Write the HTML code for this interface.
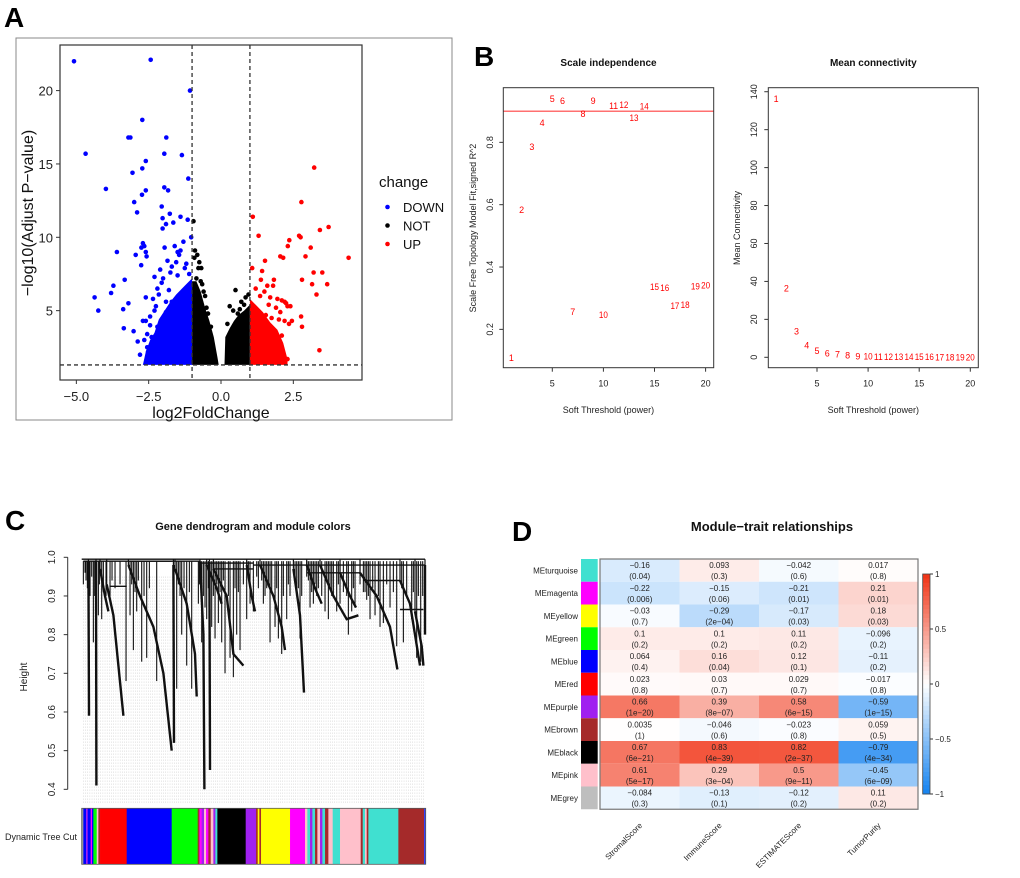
<!DOCTYPE html>
<html><head><meta charset="utf-8"><style>
html,body{margin:0;padding:0;background:#fff;}
svg{display:block;font-family:"Liberation Sans",sans-serif;}
</style></head><body>
<svg id="fig" width="1020" height="878" viewBox="0 0 1020 878" xmlns="http://www.w3.org/2000/svg">
<rect x="0" y="0" width="1020" height="878" fill="#fff"/>
<text x="4" y="27" font-size="28" font-weight="bold">A</text>
<text x="474" y="66" font-size="28" font-weight="bold">B</text>
<text x="5" y="530" font-size="28" font-weight="bold">C</text>
<text x="512" y="541" font-size="28" font-weight="bold">D</text>
<g id="pa"></g>
<g id="pb1"></g>
<g id="pb2"></g>
<g id="pc"></g>
<g id="pd"></g>
</svg>
<script>
// ---------- Panel A data ----------
const downX=[-5.08,-2.43,-1.07,-2.72,-3.2,-3.13,-1.89,-4.68,-1.96,-1.35,-2.6,-2.72,-3.06,-1.13,-3.98,-1.96,-1.83,-2.6,-2.73,-3.0,-2.05,-2.9,-1.77,-2.02,-1.4,-1.9,-1.65,-2.02,-1.15,-1.03,-3.6,-2.7,-2.65,-2.6,-2.75,-2.95,-2.57,-2.76,-3.33,-3.72,-3.8,-4.37,-4.24,-3.38,-3.2,-3.36,-3.02,-2.88,-2.7,-2.6,-2.55,-2.5,-2.52,-2.3,-2.1,-1.95,-1.6,-1.5,-1.3,-2.2,-2.0,-1.85,-2.35,-2.15,-1.7,-1.45,-1.25,-2.45,-2.25,-1.55,-1.2,-2.4,-2.05,-1.75,-1.1,-2.3,-1.9,-1.5,-2.6,-2.1,-1.8,-1.4,-2.8,-2.65,-2.45,-2.3,-2.55,-2.4,-2.2,-2.05,-1.9,-1.7];
const downY=[22.0,22.1,20.0,18.0,16.8,16.8,16.8,15.7,15.7,15.6,15.2,14.7,14.4,14.0,13.3,13.4,13.2,13.2,12.9,12.4,12.1,11.7,11.6,11.3,11.4,10.9,11.0,10.6,11.2,10.0,9.0,9.6,9.4,9.0,9.3,8.8,8.7,8.1,7.1,6.7,6.2,5.9,5.0,5.1,5.5,3.8,3.6,2.9,4.3,4.3,2.5,1.9,2.2,7.3,7.8,9.3,9.4,9.0,9.7,6.5,7.2,8.4,5.8,6.1,8.0,8.8,7.9,4.0,5.3,8.3,8.2,3.2,6.9,7.6,7.5,2.4,5.6,7.4,5.9,3.8,6.4,9.1,2.0,3.0,4.6,5.0,3.4,2.6,3.9,4.4,4.9,5.6];
const notX=[-0.95,-0.9,-0.82,-0.75,-0.68,-0.6,-0.85,-0.78,-0.7,-0.55,-0.5,-0.92,-0.65,0.5,0.3,0.42,0.58,0.7,0.85,0.95,0.22,0.65,0.8,-0.45,-0.35];
const notY=[11.1,9.1,8.8,8.3,7.9,6.3,7.2,7.9,7.0,6.0,5.2,8.6,6.8,6.4,5.3,5.0,4.8,5.6,5.9,6.1,4.1,5.1,5.4,4.8,3.9];
const upX=[3.22,2.78,1.1,3.72,3.42,1.3,2.7,2.75,2.36,2.31,3.1,4.41,2.05,2.15,2.92,1.52,1.08,1.42,3.2,3.5,1.83,1.38,2.8,3.15,3.67,1.6,1.8,3.3,2.1,2.2,2.25,2.3,2.4,2.77,2.2,2.45,2.35,2.8,3.4,2.3,1.2,1.5,1.7,1.95,1.35,1.65,1.9,2.05,1.25,1.55,1.75,2.0,1.45,2.1,1.85];
const upY=[14.75,12.4,11.4,10.7,10.5,10.1,10.1,10.0,9.8,9.4,9.3,8.6,8.7,8.6,8.7,8.4,7.9,7.7,7.6,7.6,7.1,7.1,7.1,6.8,6.8,6.7,6.7,6.1,5.7,5.6,5.5,5.3,5.3,4.6,4.3,4.3,4.1,3.9,2.3,1.7,6.5,6.3,5.9,5.8,6.0,5.4,5.2,4.9,5.0,4.7,4.5,4.4,3.6,3.3,3.0];
const downCloud=[[-2.7,1.3],[-2.6,2.2],[-2.45,3.0],[-2.3,3.5],[-2.15,4.4],[-1.95,5.0],[-1.75,5.6],[-1.55,6.1],[-1.35,6.5],[-1.15,6.9],[-1.0,7.2],[-1.0,1.3]];
const notLeftCloud=[[-1.0,1.3],[-1.0,7.0],[-0.85,7.0],[-0.7,6.3],[-0.55,5.2],[-0.4,4.3],[-0.25,3.2],[-0.12,1.8],[-0.08,1.3]];
const notRightCloud=[[0.12,1.3],[0.15,3.2],[0.3,3.8],[0.45,4.3],[0.6,4.7],[0.8,5.0],[1.0,5.4],[1.0,1.3]];
const upCloud=[[1.0,1.3],[1.0,5.8],[1.2,5.4],[1.45,4.9],[1.7,4.2],[1.95,3.7],[2.15,2.8],[2.3,1.7],[2.3,1.3]];
const volXTicks=[-5.0,-2.5,0.0,2.5];
const volYTicks=[5,10,15,20];
const volLegend=["DOWN","NOT","UP"];
// ---------- Panel B data ----------
const powers=[1,2,3,4,5,6,7,8,9,10,11,12,13,14,15,16,17,18,19,20];
const sftR2=[0.110,0.584,0.787,0.864,0.941,0.935,0.258,0.892,0.934,0.248,0.918,0.922,0.879,0.916,0.337,0.335,0.277,0.279,0.339,0.342];
const meanK=[136.5,36.4,13.9,6.6,3.5,2.3,1.7,1.1,0.8,0.6,0.5,0.45,0.4,0.35,0.3,0.3,0.25,0.25,0.2,0.2];
const r2Cut=[0.90];
const bXTicks=[5,10,15,20];
const b1YTicks=[0.2,0.4,0.6,0.8];
const b2YTicks=[0,20,40,60,80,100,120,140];
// ---------- Panel C data ----------
const strands=[
 [[320,0.93],[340,0.85],[355,0.72],[370,0.59]],
 [[385,0.98],[420,0.9],[460,0.82],[490,0.7],[515,0.5]],
 [[525,0.97],[560,0.88],[585,0.75],[590,0.64]],
 [[600,0.99],[610,0.8],[613,0.4]],
 [[288,0.99],[289,0.41]],
 [[265,0.99],[267,0.59]],
 [[628,0.99],[630,0.45]],
 [[520,0.98],[522,0.52]],
 [[640,0.97],[680,0.9],[700,0.75],[730,0.72]],
 [[780,0.98],[820,0.9],[845,0.82],[855,0.76]],
 [[880,0.97],[900,0.85],[912,0.65]],
 [[960,0.98],[1000,0.9],[1040,0.84],[1075,0.85]],
 [[1080,0.96],[1130,0.9],[1170,0.82],[1192,0.71]],
 [[1200,0.94],[1230,0.88],[1260,0.72]],
 [[1245,0.86],[1265,0.77],[1270,0.72]],
 [[1275,0.98],[1275,0.8]],
 [[300,0.97],[315,0.9],[325,0.86]],
 [[620,0.98],[650,0.92],[665,0.88]],
 [[740,0.98],[755,0.9],[765,0.86]],
 [[920,0.98],[945,0.92],[965,0.88]],
 [[1020,0.96],[1050,0.9],[1068,0.87]]
];
const leafPos=[250,255,270,280,295,305,330,360,378,390,400,410,425,440,470,530,545,560,575,595,605,615,620,635,645,655,665,675,690,700,710,720,740,750,760,770,790,800,810,825,835,845,860,870,890,900,920,930,940,950,975,985,995,1010,1020,1045,1055,1065,1090,1100,1110,1125,1140,1150,1170,1190,1210,1235,1250,1262,
 258,262,275,284,298,310,318,336,345,395,405,415,432,448,535,540,552,568,598,610,625,640,650,660,670,685,705,715,730,745,775,785,795,805,815,830,850,865,885,895,905,925,935,945,955,965,980,990,1000,1015,1030,1040,1060,1080,1095,1105,1118,1135,1160,1180,1205,1220,1240,1255,1268];
const leafH=[0.93,0.96,0.9,0.78,0.85,0.84,0.9,0.93,0.68,0.85,0.76,0.86,0.73,0.74,0.68,0.66,0.8,0.72,0.66,0.88,0.78,0.87,0.84,0.82,0.79,0.83,0.78,0.7,0.74,0.69,0.8,0.76,0.84,0.88,0.86,0.95,0.88,0.92,0.78,0.82,0.79,0.75,0.84,0.9,0.92,0.79,0.95,0.87,0.88,0.9,0.86,0.84,0.9,0.86,0.88,0.8,0.86,0.87,0.91,0.89,0.84,0.85,0.82,0.83,0.87,0.77,0.78,0.84,0.74,0.73,
 0.94,0.92,0.95,0.9,0.93,0.91,0.9,0.94,0.92,0.93,0.91,0.94,0.9,0.92,0.93,0.9,0.92,0.91,0.93,0.9,0.92,0.9,0.93,0.91,0.94,0.9,0.92,0.91,0.93,0.95,0.92,0.94,0.9,0.93,0.91,0.92,0.9,0.93,0.95,0.92,0.9,0.94,0.91,0.93,0.92,0.9,0.94,0.92,0.9,0.93,0.91,0.9,0.92,0.93,0.91,0.9,0.92,0.9,0.93,0.91,0.92,0.9,0.91,0.9,0.9];
const shelves=[[245,1275,0.995],[250,600,0.99],[600,760,0.985],[760,1275,0.98],[330,380,0.925],[390,515,0.99],[640,760,0.97],[920,1080,0.96],[1090,1200,0.94],[1200,1270,0.865]];
const modStart=[245,250,258,263,272,276,280,290,295,300,380,515,593,598,605,612,618,625,632,640,646,652,737,768,773,778,783,870,915,922,930,937,945,952,960,967,975,985,998,1020,1082,1088,1095,1100,1105,1195,1272];
const modColor=["#999999","#0000ff","#a020f0","#0000ff","#ff00ff","#0000ff","#00ff00","#ffc0cb","#a52a2a","#ff0000","#0000ff","#00ff00","#a52a2a","#ff00ff","#a020f0","#ffc0cb","#ff00ff","#a52a2a","#ffc0cb","#a020f0","#40e0d0","#000000","#a020f0","#a52a2a","#ffff00","#a52a2a","#ffff00","#ff00ff","#ffc0cb","#40e0d0","#a020f0","#40e0d0","#a52a2a","#ffc0cb","#a020f0","#40e0d0","#a52a2a","#ffc0cb","#40e0d0","#ffc0cb","#a52a2a","#40e0d0","#ffc0cb","#a52a2a","#40e0d0","#a52a2a","#3040ff"];
const heightTicks=[0.4,0.5,0.6,0.7,0.8,0.9,1.0];
// ---------- Panel D data ----------
const modules=["MEturquoise","MEmagenta","MEyellow","MEgreen","MEblue","MEred","MEpurple","MEbrown","MEblack","MEpink","MEgrey"];
const moduleColors=["#40E0D0","#FF00FF","#FFFF00","#00FF00","#0000FF","#FF0000","#A020F0","#A52A2A","#000000","#FFC0CB","#BEBEBE"];
const traits=["StromalScore","ImmuneScore","ESTIMATEScore","TumorPurity"];
const corStromal=[-0.16,-0.22,-0.03,0.1,0.064,0.023,0.66,0.0035,0.67,0.61,-0.084];
const corImmune=[0.093,-0.15,-0.29,0.1,0.16,0.03,0.39,-0.046,0.83,0.29,-0.13];
const corEstimate=[-0.042,-0.21,-0.17,0.11,0.12,0.029,0.58,-0.023,0.82,0.5,-0.12];
const corPurity=[0.017,0.21,0.18,-0.096,-0.11,-0.017,-0.59,0.059,-0.79,-0.45,0.11];
const pStromal=["0.04","0.006","0.7","0.2","0.4","0.8","1e-20","1","6e-21","5e-17","0.3"];
const pImmune=["0.3","0.06","2e-04","0.2","0.04","0.7","8e-07","0.6","4e-39","3e-04","0.1"];
const pEstimate=["0.6","0.01","0.03","0.2","0.1","0.7","6e-15","0.8","2e-37","9e-11","0.2"];
const pPurity=["0.8","0.01","0.03","0.2","0.2","0.8","1e-15","0.5","4e-34","6e-09","0.2"];
const cbTicks=[1,0.5,0,-0.5,-1];

const NS="http://www.w3.org/2000/svg";
function mk(parent,tag,attrs,txt){const e=document.createElementNS(NS,tag);for(const k in attrs)e.setAttribute(k,attrs[k]);if(txt!==undefined)e.textContent=txt;parent.appendChild(e);return e;}
function fmt(v){return String(v).replace('-','\u2212');}

// ===== Panel A =====
(function(){
const g=document.getElementById('pa');
const ax=x=>221+x*28.93, ay=y=>384-y*14.67;
let e=mk(g,'rect',{x:16,y:38,width:436,height:382,fill:'none',stroke:'#888','stroke-width':1});


const clouds=[[downCloud,'#0000ff'],[notLeftCloud,'#000'],[notRightCloud,'#000'],[upCloud,'#ff0000']];
clouds.forEach(c=>{
  const pts=c[0].map(p=>ax(p[0]).toFixed(1)+','+ay(p[1]).toFixed(1)).join(' ');
  const pg=mk(g,'polygon',{points:pts,fill:c[1]});
  
  
});
const sets=[[downX,downY,'#0000ff','down-point'],[notX,notY,'#000','not-point'],[upX,upY,'#ff0000','up-point']];
sets.forEach(s=>{s[0].forEach((x,i)=>{
  const c=mk(g,'circle',{cx:ax(x).toFixed(1),cy:ay(s[1][i]).toFixed(1),r:2.3,fill:s[2]});
  
  
});});
[-1,1].forEach(v=>{
  const l=mk(g,'line',{x1:ax(v),x2:ax(v),y1:45,y2:380,stroke:'#333','stroke-width':1.3,'stroke-dasharray':'4,3'});
  
  
});
e=mk(g,'line',{x1:60,x2:362,y1:ay(1.3),y2:ay(1.3),stroke:'#333','stroke-width':1.3,'stroke-dasharray':'4,3'});


e=mk(g,'rect',{x:60,y:45,width:302,height:335,fill:'none',stroke:'#333','stroke-width':1.2});


volXTicks.forEach(t=>{
  const l=mk(g,'line',{x1:ax(t),x2:ax(t),y1:380,y2:384,stroke:'#333'});
  
  
  const tx=mk(g,'text',{x:ax(t),y:401,'font-size':13,'text-anchor':'middle',fill:'#222'},fmt(t.toFixed(1)));
  
  
});
volYTicks.forEach(t=>{
  const l=mk(g,'line',{x1:56,x2:60,y1:ay(t),y2:ay(t),stroke:'#333'});
  
  
  const tx=mk(g,'text',{x:53,y:ay(t)+5,'font-size':13,'text-anchor':'end',fill:'#222'},String(t));
  
  
});
e=mk(g,'text',{x:211,y:418,'font-size':16,'text-anchor':'middle',fill:'#111'},'log2FoldChange');


e=mk(g,'text',{x:0,y:0,'font-size':16,'text-anchor':'middle',fill:'#111',transform:'translate(33,213) rotate(-90)'},'\u2212log10(Adjust P\u2212value)');


e=mk(g,'text',{x:379,y:187,'font-size':15,fill:'#111'},'change');


const lc=['#0000ff','#000','#ff0000'];
volLegend.forEach((n,i)=>{
  const y=207+i*18.5;
  const c=mk(g,'circle',{cx:387.5,cy:y,r:2.3,fill:lc[i]});
  
  
  const t=mk(g,'text',{x:403,y:y+5,'font-size':13,fill:'#111'},n);
  
  
});
})();

// ===== Panel B =====
function panelB(gid,bx,by,x0,x1,y0,y1,vals,yTicks,yTickFmt,title,ylab,ylx,tlx,cut){
const g=document.getElementById(gid);
let e=mk(g,'text',{x:(x0+x1)/2,y:66,'font-size':10,'font-weight':'bold','text-anchor':'middle',fill:'#111'},title);


if(cut){cut.forEach(v=>{
  const l=mk(g,'line',{x1:x0,x2:x1,y1:by(v),y2:by(v),stroke:'#ff4040','stroke-width':1.2});
  
  
});}
powers.forEach((p,i)=>{
  const t=mk(g,'text',{x:bx(p),y:by(vals[i])+3.5,'font-size':9,'text-anchor':'middle',fill:'#ff0000',textLength:p>9?9:5,lengthAdjust:'spacingAndGlyphs'},String(p));
  
  
});
e=mk(g,'rect',{x:x0,y:y0,width:x1-x0,height:y1-y0,fill:'none',stroke:'#333','stroke-width':1});


bXTicks.forEach(t=>{
  const l=mk(g,'line',{x1:bx(t),x2:bx(t),y1:y1,y2:y1+4,stroke:'#333'});
  
  
  const tx=mk(g,'text',{x:bx(t),y:y1+19,'font-size':9,'text-anchor':'middle',fill:'#222'},String(t));
  
  
});
yTicks.forEach(t=>{
  const l=mk(g,'line',{x1:x0-4,x2:x0,y1:by(t),y2:by(t),stroke:'#333'});
  
  
  const tx=mk(g,'text',{x:0,y:0,'font-size':9,'text-anchor':'middle',fill:'#222',transform:'translate('+tlx+','+by(t)+') rotate(-90)'},yTickFmt(t));
  
  
});
e=mk(g,'text',{x:(x0+x1)/2,y:413,'font-size':9,'text-anchor':'middle',fill:'#222'},'Soft Threshold (power)');


e=mk(g,'text',{x:0,y:0,'font-size':9,'text-anchor':'middle',fill:'#222',transform:'translate('+ylx+',228) rotate(-90)'},ylab);


}
panelB('pb1',p=>501.2+p*10.22,v=>391.7-v*311.7,503.3,713.7,87.7,367.7,sftR2,b1YTicks,t=>t.toFixed(1),'Scale independence','Scale Free Topology Model Fit,signed R^2',476,493,r2Cut);
panelB('pb2',p=>765.9+p*10.22,v=>357.3-v*1.897,768.3,978.3,87.7,367.7,meanK,b2YTicks,t=>String(t),'Mean connectivity','Mean Connectivity',740,757,null);

// ===== Panel C =====
(function(){
const g=document.getElementById('pc');
const cx=p=>81.7+(p-245)/(1277-245)*344, cy=h=>557.3+(1-h)*386.7;
let e=mk(g,'text',{x:253,y:530,'font-size':11,'font-weight':'bold','text-anchor':'middle',fill:'#111'},'Gene dendrogram and module colors');


for(let p=250;p<1277;p+=6.5){
  const l=mk(g,'line',{x1:cx(p),x2:cx(p),y1:cy(0.95),y2:804,stroke:'#c8c8c8','stroke-width':0.6,'stroke-dasharray':'1,2'});
  
  
}
leafPos.forEach((p,i)=>{
  const l=mk(g,'line',{x1:cx(p),x2:cx(p),y1:cy(0.99),y2:cy(leafH[i]),stroke:'#111','stroke-width':1.1});
  
  
});
strands.forEach(s=>{
  const pts=s.map(q=>cx(q[0]).toFixed(1)+','+cy(q[1]).toFixed(1)).join(' ');
  const l=mk(g,'polyline',{points:pts,fill:'none',stroke:'#111','stroke-width':2.4});
  
  
  const f=mk(g,'polyline',{points:cx(s[0][0]).toFixed(1)+','+cy(0.995).toFixed(1)+' '+cx(s[0][0]).toFixed(1)+','+cy(s[0][1]).toFixed(1),fill:'none',stroke:'#111','stroke-width':1.2});
  
  
});
shelves.forEach(s=>{
  const l=mk(g,'line',{x1:cx(s[0]),x2:cx(s[1]),y1:cy(s[2]),y2:cy(s[2]),stroke:'#111','stroke-width':1.4});
  
  
});
e=mk(g,'line',{x1:67.7,x2:67.7,y1:cy(1.0),y2:cy(0.4),stroke:'#333'});


heightTicks.forEach(t=>{
  const l=mk(g,'line',{x1:63.7,x2:67.7,y1:cy(t),y2:cy(t),stroke:'#333'});
  
  
  const tx=mk(g,'text',{x:0,y:0,'font-size':10,'text-anchor':'middle',fill:'#222',transform:'translate(55,'+cy(t)+') rotate(-90)'},t.toFixed(1));
  
  
});
e=mk(g,'text',{x:0,y:0,'font-size':10,'text-anchor':'middle',fill:'#222',transform:'translate(27,677) rotate(-90)'},'Height');


modStart.forEach((s,i)=>{
  const end=i<modStart.length-1?modStart[i+1]:1277;
  const r=mk(g,'rect',{x:cx(s),y:808.3,width:cx(end)-cx(s)+0.3,height:56,fill:modColor[i]});
  
  
});
e=mk(g,'rect',{x:81.7,y:808.3,width:344,height:56,fill:'none',stroke:'#555','stroke-width':0.8});


e=mk(g,'text',{x:41,y:840,'font-size':9,'text-anchor':'middle',fill:'#222'},'Dynamic Tree Cut');


})();

// ===== Panel D =====
(function(){
const g=document.getElementById('pd');
const x0=600,y0=559,cw=79.5,rh=22.75;
const cors=[corStromal,corImmune,corEstimate,corPurity];
const ps=[pStromal,pImmune,pEstimate,pPurity];
function col(v){
  let r,gg,b;
  if(v>=0){r=255+(240-255)*v;gg=255+(50-255)*v;b=255+(20-255)*v;}
  else{const a=-v;r=255+(20-255)*a;gg=255+(130-255)*a;b=255+(240-255)*a;}
  return 'rgb('+Math.round(r)+','+Math.round(gg)+','+Math.round(b)+')';
}
let e=mk(g,'text',{x:772,y:531,'font-size':13,'font-weight':'bold','text-anchor':'middle',fill:'#111'},'Module\u2212trait relationships');


modules.forEach((m,i)=>{
  const y=y0+i*rh;
  const s=mk(g,'rect',{x:581,y:y,width:16.7,height:rh,fill:moduleColors[i]});
  
  
  const t=mk(g,'text',{x:578,y:y+rh/2+3,'font-size':8,'text-anchor':'end',fill:'#222'},m);
  
  
  traits.forEach((tr,j)=>{
    const v=cors[j][i];
    const c=mk(g,'rect',{x:x0+j*cw,y:y,width:cw,height:rh,fill:col(v)});
    
    
    const t1=mk(g,'text',{x:x0+j*cw+cw/2,y:y+9,'font-size':8,'text-anchor':'middle',fill:'#222'},fmt(v));
    
    
    const t2=mk(g,'text',{x:x0+j*cw+cw/2,y:y+20,'font-size':8,'text-anchor':'middle',fill:'#222'},'('+fmt(ps[j][i])+')');
    
    
  });
});
e=mk(g,'rect',{x:x0,y:y0,width:cw*4,height:rh*11,fill:'none',stroke:'#777','stroke-width':1.2});


traits.forEach((tr,j)=>{
  const t=mk(g,'text',{x:0,y:0,'font-size':8,'text-anchor':'end',fill:'#222',transform:'translate('+(x0+j*cw+cw/2+3)+',826) rotate(-45)'},tr);
  
  
});
const cbTop=574,cbBot=794;
const cbv=v=>cbTop+(1-v)/2*(cbBot-cbTop);
for(let k=0;k<50;k++){
  const v=1-k*0.04;
  const r=mk(g,'rect',{x:922.7,y:cbv(v),width:7.3,height:(cbBot-cbTop)/50+0.5,fill:col(v-0.02)});
  
  
}
e=mk(g,'rect',{x:922.7,y:cbTop,width:7.3,height:cbBot-cbTop,fill:'none',stroke:'#444','stroke-width':0.8});


cbTicks.forEach(t=>{
  const l=mk(g,'line',{x1:930,x2:933,y1:cbv(t),y2:cbv(t),stroke:'#333'});
  
  
  const tx=mk(g,'text',{x:935,y:cbv(t)+3,'font-size':8,fill:'#222'},fmt(t));
  
  
});
})();
</script>
</body></html>
